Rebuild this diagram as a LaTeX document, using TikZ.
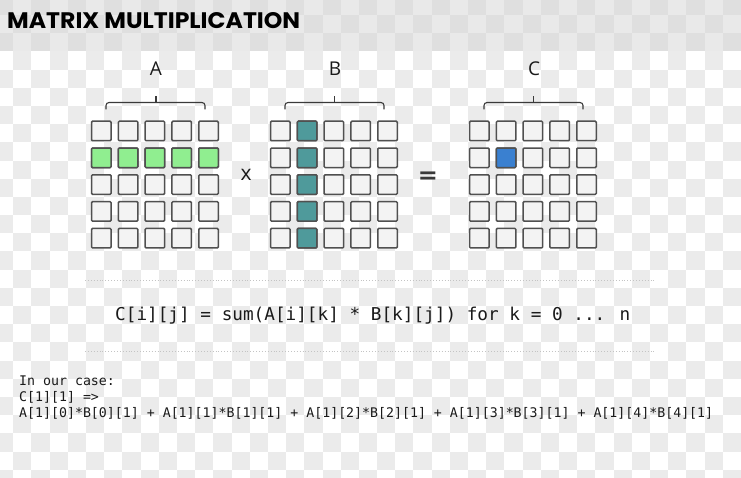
\documentclass[tikz,border=0pt]{standalone}
\usepackage{fontspec}
\setmainfont{Open Sans}
\newfontfamily\titlefont{Poppins}
\newfontfamily\monofont{DejaVu Sans Mono}
\newfontfamily\symfont{DejaVu Sans}
\definecolor{chk}{HTML}{EBEBEB}
\definecolor{bandA}{HTML}{E9E9E9}
\definecolor{bandB}{HTML}{DFDFDF}
\definecolor{cellfill}{HTML}{F3F3F3}
\definecolor{cellline}{HTML}{505050}
\definecolor{rowgreen}{HTML}{90EE90}
\definecolor{colteal}{HTML}{4F9A9B}
\definecolor{hiblue}{HTML}{3A80D0}
\definecolor{ink}{HTML}{1A1A1A}
\definecolor{bracecol}{HTML}{3A3A3A}
\definecolor{dotcol}{HTML}{C4C4C4}
\tikzset{
  cell/.style={draw=cellline, fill=cellfill, line width=1.5pt, rounded corners=1pt,
    minimum size=19.5pt, inner sep=0pt},
  bracepath/.style={draw=bracecol, line width=1.1pt, rounded corners=3pt},
  lbl/.style={font=\fontsize{19}{22}\selectfont, text=ink, inner sep=0pt},
  sepline/.style={draw=dotcol, dotted, line width=0.9pt},
  codeline/.style={font=\monofont\fontsize{13.25}{15}\selectfont, text=ink, anchor=west, inner sep=0pt},
}
\begin{document}
\begin{tikzpicture}[x=1pt,y=-1pt]
\useasboundingbox (0,0) rectangle (741,478);
% background checkerboard
\begin{scope}
\clip (0,0) rectangle (741,478);
\fill[white] (0,0) rectangle (741,478);
\fill[bandA] (0,0) rectangle (741,51.4);
\foreach \c in {0,...,41}{
  \foreach \r in {0,...,26}{
    \pgfmathtruncatemacro\pp{mod(\c+\r,2)}
    \ifnum\pp=0
      \pgfmathsetmacro\xa{13.3+18.19*(\c-1)}
      \pgfmathsetmacro\ya{15+18.19*(\r-1)}
      \ifnum\r<3
        \fill[bandB] (\xa,\ya) rectangle ++(18.19,18.19);
      \else
        \fill[chk] (\xa,\ya) rectangle ++(18.19,18.19);
      \fi
    \fi
  }
}
\end{scope}
% title
\node[anchor=west, inner sep=0pt] (title) at (7,21)
  {\resizebox{293pt}{16pt}{\titlefont\bfseries MATRIX MULTIPLICATION}};
% matrices
\foreach \i in {0,...,4}{
  \foreach \j in {0,...,4}{
    \node[cell] (A-\i-\j) at (101.3+26.8*\i, 131+26.8*\j) {};
    \node[cell] (B-\i-\j) at (280.3+26.8*\i, 131+26.8*\j) {};
    \node[cell] (C-\i-\j) at (479.3+26.8*\i, 131+26.8*\j) {};
  }
}
\foreach \i in {0,...,4}{
  \node[cell, fill=rowgreen] at (A-\i-1) {};
  \node[cell, fill=colteal] at (B-1-\i) {};
}
\node[cell, fill=hiblue] at (C-1-1) {};
% braces
\path[bracepath] (106,109.3) -- (106,102.5) -- (205,102.5) -- (205,109.3);
\draw[draw=bracecol, line width=1.1pt] (156,102.5) -- (156,96);
\path[bracepath] (285,109.3) -- (285,102.5) -- (384,102.5) -- (384,109.3);
\draw[draw=bracecol, line width=1.1pt] (334.5,102.5) -- (334.5,96);
\path[bracepath] (484,109.3) -- (484,102.5) -- (583,102.5) -- (583,109.3);
\draw[draw=bracecol, line width=1.1pt] (533.5,102.5) -- (533.5,96);
% labels
\node[lbl] (labA) at (156,69) {A};
\node[lbl] (labB) at (335,69) {B};
\node[lbl] (labC) at (534,69) {C};
\node[lbl, font=\fontsize{21}{24}\selectfont] (times) at (246,175) {x};
\node[inner sep=0pt, text=bracecol, font=\symfont\bfseries\fontsize{24}{26}\selectfont] (eq) at (428,178) {=};
% separators
\coordinate (s1a) at (85,280); \coordinate (s1b) at (655,280);
\coordinate (s2a) at (85,351); \coordinate (s2b) at (655,351);
\draw[sepline] (s1a) -- (s1b);
\draw[sepline] (s2a) -- (s2b);
% formula
\node[anchor=west, inner sep=0pt, text=ink, font=\monofont\fontsize{17.7}{20}\selectfont] (formula) at (115,315.5)
  {C[i][j] = sum(A[i][k] * B[k][j]) for k = 0 ... n};
% explanation
\node[codeline] (case1) at (19,381) {In our case:};
\node[codeline] (case2) at (19,397) {C[1][1] =>};
\node[codeline] (case3) at (19,413) {A[1][0]*B[0][1] + A[1][1]*B[1][1] + A[1][2]*B[2][1] + A[1][3]*B[3][1] + A[1][4]*B[4][1]};
\end{tikzpicture}
\end{document}
